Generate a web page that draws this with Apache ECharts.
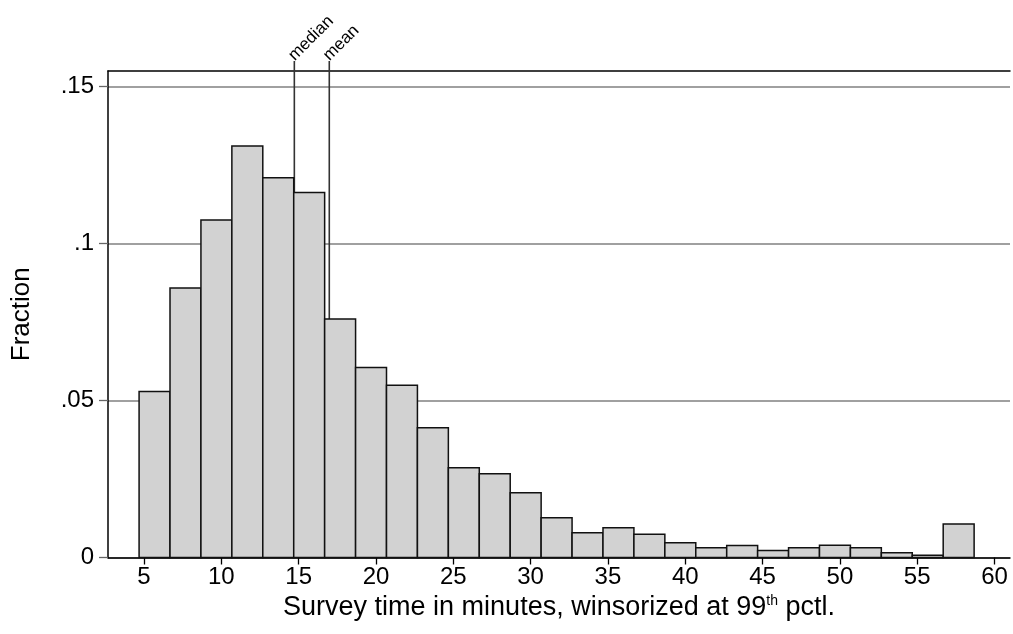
<!DOCTYPE html>
<html>
<head>
<meta charset="utf-8">
<script src="https://cdn.jsdelivr.net/npm/echarts@6/dist/echarts.min.js"></script>
<style>
html,body{margin:0;padding:0;background:#fff;}
#chart{width:1013px;height:634px;}
</style>
</head>
<body>
<div id="chart"></div>
<script>
// ---- data ----
const binEdges = [4.68, 6.68, 8.68, 10.68, 12.68, 14.68, 16.68, 18.68, 20.68, 22.68,
  24.68, 26.68, 28.68, 30.68, 32.68, 34.68, 36.68, 38.68, 40.68, 42.68,
  44.68, 46.68, 48.68, 50.68, 52.68, 54.68, 56.68, 58.68];
const fractions = [0.0529, 0.0859, 0.1075, 0.1311, 0.1210, 0.1163, 0.0760, 0.0605, 0.0549, 0.0413,
  0.0286, 0.0267, 0.0206, 0.0127, 0.0079, 0.0095, 0.0074, 0.0047, 0.0031, 0.0038,
  0.0022, 0.0031, 0.0039, 0.0031, 0.0015, 0.0007, 0.0107];
const xTicks = [5, 10, 15, 20, 25, 30, 35, 40, 45, 50, 55, 60];
const yTicks = [0, 0.05, 0.1, 0.15];
const yTickLabels = ['0', '.05', '.1', '.15'];
const refNames = ['median', 'mean'];
const refValues = [14.72, 16.98];
const xTitle = 'Survey time in minutes, winsorized at 99{sup|th} pctl.';
const yTitle = 'Fraction';

// ---- layout ----
const X_MIN = 2.67, X_MAX = 61, Y_MAX = 0.155;
const FONT = '"Liberation Sans", Arial, Helvetica, sans-serif';

const chart = echarts.init(document.getElementById('chart'), null, {renderer: 'canvas'});

const barData = fractions.map((f, i) => [binEdges[i], binEdges[i + 1], f]);
const refData = refValues.map((v, i) => [v, i]);

const option = {
  animation: false,
  backgroundColor: '#fff',
  grid: {left: 108, right: 3, top: 71, bottom: 76.5, containLabel: false},
  xAxis: [{
    type: 'value', min: X_MIN, max: X_MAX, position: 'bottom',
    axisLine: {show: true, onZero: false, lineStyle: {color: '#000', width: 1.5}},
    axisTick: {show: true, customValues: xTicks, length: 7, lineStyle: {color: '#000', width: 1.3}},
    axisLabel: {customValues: xTicks, fontSize: 24, color: '#000', fontFamily: FONT, margin: 8},
    splitLine: {show: false},
    name: xTitle, nameLocation: 'middle', nameGap: 31,
    nameTextStyle: {fontSize: 27, color: '#000', fontFamily: FONT,
      rich: {sup: {fontSize: 14, color: '#000', fontFamily: FONT, verticalAlign: 'top', padding: [0, 0, 13, 0]}}}
  }, {
    type: 'value', min: X_MIN, max: X_MAX, position: 'top',
    axisLine: {show: true, onZero: false, lineStyle: {color: '#000', width: 1.5}},
    axisTick: {show: false}, axisLabel: {show: false}, splitLine: {show: false}
  }],
  yAxis: {
    type: 'value', min: 0, max: Y_MAX, interval: 0.05,
    axisLine: {show: true, onZero: false, lineStyle: {color: '#000', width: 1.5}},
    axisTick: {show: true, customValues: yTicks, length: 9, lineStyle: {color: '#666', width: 1.3}},
    axisLabel: {customValues: yTicks, fontSize: 24, color: '#000', fontFamily: FONT, margin: 14,
      formatter: v => { const i = yTicks.findIndex(t => Math.abs(t - v) < 1e-9); return i >= 0 ? yTickLabels[i] : ''; }},
    splitLine: {show: true, lineStyle: {color: '#808080', width: 1.5}},
    name: yTitle, nameLocation: 'middle', nameGap: 73,
    nameTextStyle: {fontSize: 26, color: '#000', fontFamily: FONT}
  },
  series: [{
    type: 'custom', name: 'refLines', z: 2, clip: false,
    data: refData,
    encode: {x: 0, y: 1},
    renderItem: (params, api) => {
      const v = api.value(0);
      const base = api.coord([v, 0]);
      const top = api.coord([v, Y_MAX]);
      const yTop = top[1] - 10;
      return {type: 'group', children: [
        {type: 'line', shape: {x1: base[0], y1: base[1], x2: base[0], y2: yTop},
          style: {stroke: '#333', lineWidth: 1.6}},
        {type: 'text', x: base[0] + 3, y: yTop + 3, rotation: Math.PI / 4,
          style: {text: refNames[params.dataIndex], fontSize: 17, fontFamily: FONT, fill: '#000',
            align: 'left', verticalAlign: 'bottom'}}
      ]};
    }
  }, {
    type: 'custom', name: 'hist', z: 3,
    data: barData,
    encode: {x: [0, 1], y: 2},
    renderItem: (params, api) => {
      const p0 = api.coord([api.value(0), api.value(2)]);
      const p1 = api.coord([api.value(1), 0]);
      return {type: 'rect',
        shape: {x: p0[0], y: p0[1], width: p1[0] - p0[0], height: p1[1] - p0[1]},
        style: {fill: '#d2d2d2', stroke: '#111', lineWidth: 1.5}};
    }
  }]
};
chart.setOption(option);
</script>
</body>
</html>
